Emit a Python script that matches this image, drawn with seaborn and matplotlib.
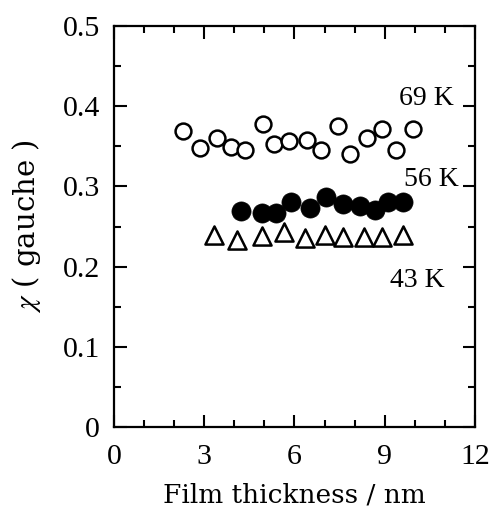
import matplotlib
matplotlib.use("Agg")
import matplotlib.pyplot as plt
import seaborn as sns
from matplotlib.ticker import MultipleLocator

# 69 K - open circles
t69 = [2.30, 2.86, 3.41, 3.89, 4.37, 4.94, 5.32, 5.81, 6.42, 6.88, 7.45, 7.86, 8.41, 8.91, 9.39, 9.94]
g69 = [0.369, 0.348, 0.360, 0.349, 0.345, 0.378, 0.353, 0.357, 0.358, 0.345, 0.375, 0.340, 0.360, 0.372, 0.345, 0.372]

# 56 K - filled circles
t56 = [4.22, 4.93, 5.40, 5.90, 6.51, 7.06, 7.61, 8.17, 8.67, 9.12, 9.62]
g56 = [0.269, 0.267, 0.267, 0.280, 0.273, 0.287, 0.278, 0.275, 0.271, 0.280, 0.280]

# 43 K - open triangles
t43 = [3.32, 4.09, 4.91, 5.65, 6.36, 7.00, 7.61, 8.31, 8.91, 9.62]
g43 = [0.239, 0.233, 0.238, 0.243, 0.236, 0.240, 0.237, 0.237, 0.237, 0.239]

sns.set_style("ticks")
plt.rcParams['font.family'] = ['Liberation Serif', 'DejaVu Serif']
plt.rcParams['mathtext.fontset'] = 'stix'
plt.rcParams['text.color'] = 'black'
plt.rcParams['axes.labelcolor'] = 'black'

fig = plt.figure(figsize=(4.92, 5.07), dpi=100)
ax = fig.add_axes([0.2317, 0.1578, 0.7337, 0.7909])

sns.scatterplot(x=t69, y=g69, ax=ax, marker='o', s=130, facecolor='white',
                edgecolor='black', linewidth=1.8, zorder=3)
sns.scatterplot(x=t56, y=g56, ax=ax, marker='o', s=190, color='black',
                edgecolor='black', linewidth=0.5, zorder=3)
sns.scatterplot(x=t43, y=g43, ax=ax, marker='^', s=170, facecolor='white',
                edgecolor='black', linewidth=1.8, zorder=3)

ax.set_xlim(0, 12)
ax.set_ylim(0, 0.5)
ax.xaxis.set_major_locator(MultipleLocator(3))
ax.xaxis.set_minor_locator(MultipleLocator(1))
ax.yaxis.set_minor_locator(MultipleLocator(0.05))
ax.set_yticks([0, 0.1, 0.2, 0.3, 0.4, 0.5])
ax.set_yticklabels(['0', '0.1', '0.2', '0.3', '0.4', '0.5'])

ax.tick_params(which='both', direction='in', top=True, right=True, width=1.5,
               labelsize=21.5, color='black', labelcolor='black')
ax.tick_params(axis='x', pad=12)
ax.tick_params(axis='y', pad=10)
ax.tick_params(which='major', length=9)
ax.tick_params(which='minor', length=5)
for sp in ax.spines.values():
    sp.set_linewidth(1.6)
    sp.set_color('black')

ax.set_xlabel('Film thickness / nm', fontsize=19, family='DejaVu Serif', labelpad=9)
ax.set_ylabel(r'$\chi$ ( gauche )', fontsize=21, family='DejaVu Serif', labelpad=14)

ax.text(11.3, 0.41, '69 K', fontsize=20, ha='right', va='center')
ax.text(11.45, 0.309, '56 K', fontsize=20, ha='right', va='center')
ax.text(11.0, 0.183, '43 K', fontsize=20, ha='right', va='center')

fig.savefig('out.png', dpi=100)
